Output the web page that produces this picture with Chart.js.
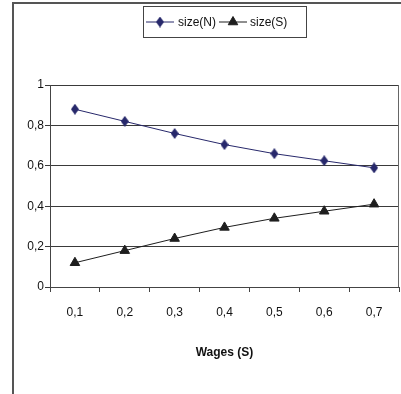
<!DOCTYPE html>
<html>
<head>
<meta charset="utf-8">
<script src="https://cdn.jsdelivr.net/npm/chart.js@4/dist/chart.umd.min.js"></script>
<style>
  html, body { margin: 0; padding: 0; background: #fff; }
  #wrap { width: 401px; height: 394px; position: relative; }
</style>
</head>
<body>
<div id="wrap"><canvas id="c" width="401" height="394"></canvas></div>
<script>
// Wage levels on the x axis
const wages = ['0,1', '0,2', '0,3', '0,4', '0,5', '0,6', '0,7'];
// Sector sizes
const sizeN = [0.88, 0.82, 0.76, 0.705, 0.66, 0.625, 0.59];
const sizeS = [0.12, 0.18, 0.24, 0.295, 0.34, 0.375, 0.41];
const seriesNames = ['size(N)', 'size(S)'];
const xTitle = 'Wages (S)';

const FONT = "'Liberation Sans Narrow', 'Liberation Sans', Arial, sans-serif";
const NAVY = '#27286b';
const DARK = '#1e1e1e';
const FRAME = '#555';

// Tall, narrow diamond marker
function makeDiamond(color, w, h) {
  const c = document.createElement('canvas');
  c.width = w; c.height = h;
  const g = c.getContext('2d');
  g.fillStyle = color;
  g.beginPath();
  g.moveTo(w / 2, 0);
  g.lineTo(w, h / 2);
  g.lineTo(w / 2, h);
  g.lineTo(0, h / 2);
  g.closePath();
  g.fill();
  return c;
}
const diamond = makeDiamond(NAVY, 8, 11);

// Outer chart frame, plot frame and boxed legend
const decor = {
  id: 'decor',
  beforeDraw(chart) {
    const ctx = chart.ctx;
    ctx.save();
    ctx.fillStyle = '#fff';
    ctx.fillRect(0, 0, chart.width, chart.height);
    ctx.strokeStyle = FRAME;
    ctx.lineWidth = 2;
    ctx.beginPath();
    ctx.moveTo(13, chart.height);
    ctx.lineTo(13, 3);
    ctx.lineTo(chart.width, 3);
    ctx.stroke();
    ctx.restore();
  },
  afterDraw(chart) {
    const ctx = chart.ctx;
    const a = chart.chartArea;
    ctx.save();
    // right edge of the plot area
    ctx.strokeStyle = '#666';
    ctx.lineWidth = 1;
    ctx.beginPath();
    ctx.moveTo(Math.round(a.right) - 0.5, a.top);
    ctx.lineTo(Math.round(a.right) - 0.5, a.bottom);
    ctx.stroke();

    // legend box
    const bx = 143.5, by = 6.5, bw = 163, bh = 31;
    ctx.strokeStyle = '#444';
    ctx.lineWidth = 1;
    ctx.strokeRect(bx, by, bw, bh);
    const cy = by + bh / 2;
    ctx.font = '12px ' + FONT;
    ctx.textBaseline = 'middle';
    ctx.textAlign = 'left';
    const items = [
      { x: 146, tx: 178 },
      { x: 219, tx: 250 }
    ];
    chart.data.datasets.forEach((ds, i) => {
      const it = items[i];
      ctx.strokeStyle = ds.borderColor;
      ctx.lineWidth = 1;
      ctx.beginPath();
      ctx.moveTo(it.x, cy);
      ctx.lineTo(it.x + 28, cy);
      ctx.stroke();
      ctx.fillStyle = ds.pointBackgroundColor;
      ctx.strokeStyle = ds.pointBorderColor;
      Chart.helpers.drawPoint(ctx, {
        pointStyle: ds.pointStyle, radius: ds.pointRadius, borderWidth: 1
      }, it.x + 14, cy);
      ctx.fillStyle = '#111';
      ctx.fillText(ds.label, it.tx, cy + 1);
    });
    ctx.restore();
  }
};

new Chart(document.getElementById('c'), {
  type: 'line',
  data: {
    labels: wages,
    datasets: [
      {
        label: seriesNames[0], data: sizeN,
        borderColor: NAVY, borderWidth: 1,
        pointStyle: diamond, pointRadius: 5,
        pointBackgroundColor: NAVY, pointBorderColor: NAVY,
        tension: 0
      },
      {
        label: seriesNames[1], data: sizeS,
        borderColor: DARK, borderWidth: 1,
        pointStyle: 'triangle', pointRadius: 5.5,
        pointBackgroundColor: DARK, pointBorderColor: DARK,
        tension: 0
      }
    ]
  },
  options: {
    responsive: false,
    animation: false,
    devicePixelRatio: 1,
    layout: { autoPadding: false, padding: { top: 85, left: 0, right: 2, bottom: 34 } },
    plugins: { legend: { display: false }, tooltip: { enabled: false } },
    scales: {
      x: {
        type: 'category',
        offset: true,
        grid: { offset: true, drawOnChartArea: false, drawTicks: true, tickLength: 5, color: '#444' },
        border: { display: true, color: '#444', width: 1 },
        ticks: { color: '#111', font: { family: FONT, size: 12 }, padding: 13, maxRotation: 0 },
        title: { display: true, text: xTitle, color: '#111', font: { family: FONT, size: 12, weight: 'bold' }, padding: { top: 0, bottom: 0 } },
        afterFit(s) { s.height = 73; }
      },
      y: {
        min: 0, max: 1,
        ticks: {
          stepSize: 0.2, color: '#111', padding: 1,
          font: { family: FONT, size: 12 },
          callback: v => String(Math.round(v * 10) / 10).replace('.', ',')
        },
        grid: { color: '#3a3a3a', lineWidth: 1, tickLength: 5 },
        border: { display: true, color: '#444', width: 1 },
        afterFit(s) { s.width = 50; }
      }
    }
  },
  plugins: [decor]
});
</script>
</body>
</html>
